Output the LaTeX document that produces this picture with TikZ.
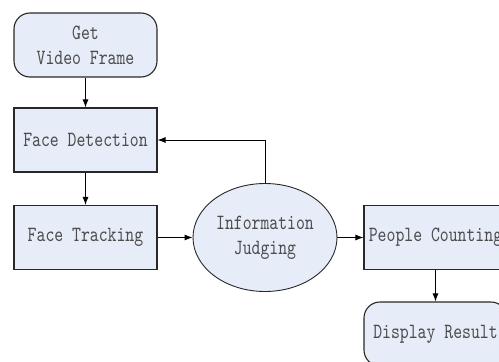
\documentclass[tikz,border=0pt]{standalone}
\usepackage{fontspec}
\setmainfont{lmmono10-regular.otf}[FakeStretch=0.78]
\usetikzlibrary{shapes.geometric,arrows.meta}
\definecolor{boxfill}{RGB}{230,236,248}
\definecolor{boxline}{RGB}{40,40,40}
\begin{document}
\begin{tikzpicture}[x=1pt,y=-1pt,
  base/.style={draw=boxline,line width=1.1pt,fill=boxfill,text=black!70,
    font=\fontsize{21.7}{25}\selectfont,align=center,inner sep=0pt},
  rectbox/.style={base,minimum width=143pt,minimum height=64pt},
  roundbox/.style={base,rounded corners=16pt,minimum width=143pt,minimum height=64pt},
  ellbox/.style={base,ellipse,minimum width=144pt,minimum height=108pt,line width=0.9pt},
  conn/.style={draw=black,line width=0.9pt,-{Latex[length=8pt,width=6pt]}}]
\useasboundingbox (0,0) rectangle (499,362);
\node[roundbox] (get) at (85.5,45) {Get\\Video Frame};
\node[rectbox] (det) at (85.5,140) {Face Detection};
\node[rectbox] (trk) at (85.5,237.5) {Face Tracking};
\node[ellbox] (inf) at (265,237.5) {Information\\Judging};
\node[rectbox] (cnt) at (435.5,237.5) {People Counting};
\node[roundbox] (dis) at (435.5,334) {Display Result};
\draw[conn] (get) -- (det);
\draw[conn] (det) -- (trk);
\draw[conn] (trk) -- (inf);
\draw[conn] (inf) -- (cnt);
\draw[conn] (cnt.south -| dis.north) -- (dis.north);
\draw[conn] (inf.north) |- (det.east);
\end{tikzpicture}
\end{document}
